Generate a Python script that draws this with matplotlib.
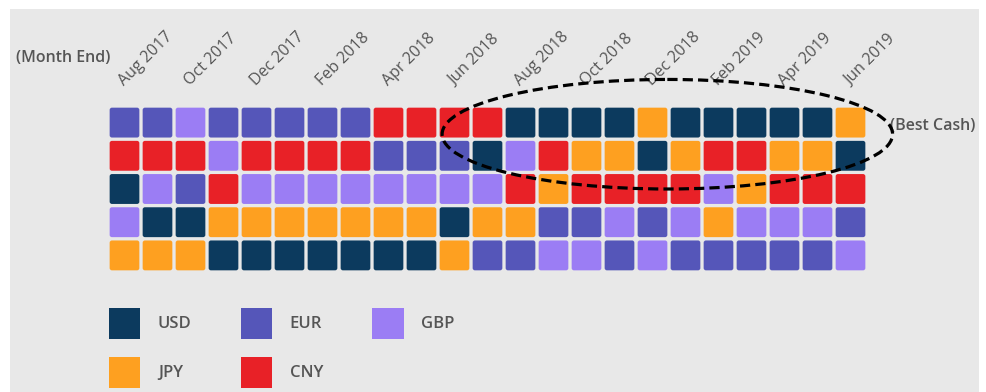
import numpy as np
import matplotlib
matplotlib.use("Agg")
import matplotlib.pyplot as plt
from matplotlib.patches import FancyBboxPatch, Rectangle, Ellipse

plt.rcParams['font.family'] = ['Open Sans', 'DejaVu Sans']

# data ---------------------------------------------------------------
currencies = ['USD', 'EUR', 'GBP', 'JPY', 'CNY']
colors = {'USD': '#0c3a5e', 'EUR': '#5556b9', 'GBP': '#9b7df4',
          'JPY': '#fea020', 'CNY': '#e82127'}

months = ['Aug 2017', 'Sep 2017', 'Oct 2017', 'Nov 2017', 'Dec 2017',
          'Jan 2018', 'Feb 2018', 'Mar 2018', 'Apr 2018', 'May 2018',
          'Jun 2018', 'Jul 2018', 'Aug 2018', 'Sep 2018', 'Oct 2018',
          'Nov 2018', 'Dec 2018', 'Jan 2019', 'Feb 2019', 'Mar 2019',
          'Apr 2019', 'May 2019', 'Jun 2019']

# rank 1 (best cash) to rank 5, one entry per month
rank1 = ['EUR', 'EUR', 'GBP', 'EUR', 'EUR', 'EUR', 'EUR', 'EUR', 'CNY', 'CNY',
         'CNY', 'CNY', 'USD', 'USD', 'USD', 'USD', 'JPY', 'USD', 'USD', 'USD',
         'USD', 'USD', 'JPY']
rank2 = ['CNY', 'CNY', 'CNY', 'GBP', 'CNY', 'CNY', 'CNY', 'CNY', 'EUR', 'EUR',
         'EUR', 'USD', 'GBP', 'CNY', 'JPY', 'JPY', 'USD', 'JPY', 'CNY', 'CNY',
         'JPY', 'JPY', 'USD']
rank3 = ['USD', 'GBP', 'EUR', 'CNY', 'GBP', 'GBP', 'GBP', 'GBP', 'GBP', 'GBP',
         'GBP', 'GBP', 'CNY', 'JPY', 'CNY', 'CNY', 'CNY', 'CNY', 'GBP', 'JPY',
         'CNY', 'CNY', 'CNY']
rank4 = ['GBP', 'USD', 'USD', 'JPY', 'JPY', 'JPY', 'JPY', 'JPY', 'JPY', 'JPY',
         'USD', 'JPY', 'JPY', 'EUR', 'EUR', 'GBP', 'EUR', 'GBP', 'JPY', 'GBP',
         'GBP', 'GBP', 'EUR']
rank5 = ['JPY', 'JPY', 'JPY', 'USD', 'USD', 'USD', 'USD', 'USD', 'USD', 'USD',
         'JPY', 'EUR', 'EUR', 'GBP', 'GBP', 'EUR', 'GBP', 'EUR', 'EUR', 'EUR',
         'EUR', 'EUR', 'GBP']
ranks = [rank1, rank2, rank3, rank4, rank5]

TXT = '#555555'
BG = '#e8e8e8'

W, H = 987, 392
fig = plt.figure(figsize=(W / 100, H / 100), dpi=100, facecolor='white')
# grey panel behind everything
fig.patches.append(Rectangle((10 / W, 0), 969 / W, 1 - 9 / H,
                             transform=fig.transFigure, facecolor=BG,
                             edgecolor='none', zorder=-5))

ax = fig.add_axes([108 / W, 1 - 272 / H, 759 / W, 166 / H])
ax.set_xlim(0, len(months))
ax.set_ylim(len(ranks), 0)
ax.axis('off')
ax.patch.set_alpha(0)

gap = 0.05
for r, row in enumerate(ranks):
    for c, cur in enumerate(row):
        ax.add_patch(FancyBboxPatch((c + gap, r + gap), 1 - 2 * gap, 1 - 2 * gap,
                                    boxstyle='round,pad=0,rounding_size=0.07',
                                    facecolor=colors[cur], edgecolor='none'))

# month labels every second month
for c in range(0, len(months), 2):
    ax.text(c + 0.5, -0.6, months[c], rotation=45, rotation_mode='anchor',
            ha='left', va='baseline', fontsize=11.5, color=TXT, clip_on=False)

ax.text(-2.8, -1.45, '(Month End)', ha='left', va='center', fontsize=11.5,
        color=TXT, fontweight='semibold', clip_on=False)
ax.text(23.7, 0.6, '(Best Cash)', ha='left', va='center', fontsize=11.5,
        color=TXT, fontweight='semibold', clip_on=False)

ax.add_patch(Ellipse((16.95, 0.85), 13.65, 3.3, fill=False, edgecolor='black',
                     linestyle=(0, (3.2, 1.6)), linewidth=2.3, clip_on=False,
                     zorder=5))

# legend
order = ['USD', 'JPY', 'EUR', 'CNY', 'GBP']
handles = [Rectangle((0, 0), 1, 1, facecolor=colors[k], edgecolor='none')
           for k in order]
leg = fig.legend(handles, order, loc='upper left',
                 bbox_to_anchor=(109 / W, 1 - 308 / H), ncol=3, frameon=False,
                 fontsize=11, handlelength=2.05, handleheight=2.74,
                 handletextpad=1.15, columnspacing=3.22, labelspacing=1.19,
                 borderpad=0, borderaxespad=0)
for t in leg.get_texts():
    t.set_color(TXT)
    t.set_fontweight('semibold')
    t.set_fontsize(12)

fig.savefig('out.png', dpi=100, facecolor=fig.get_facecolor())
